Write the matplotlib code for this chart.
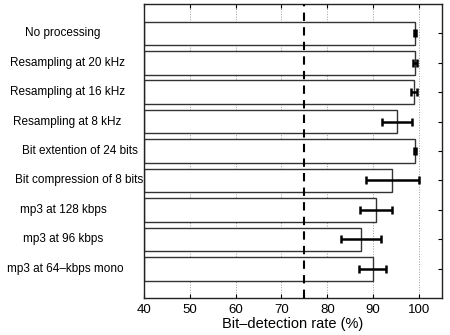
import numpy as np
import matplotlib
matplotlib.use("Agg")
import matplotlib.pyplot as plt
from matplotlib.transforms import blended_transform_factory

plt.rcParams['font.family'] = ['Liberation Sans', 'DejaVu Sans']

# data
labels = ['No processing', 'Resampling at 20 kHz', 'Resampling at 16 kHz',
          'Resampling at 8 kHz', 'Bit extention of 24 bits',
          'Bit compression of 8 bits', 'mp3 at 128 kbps', 'mp3 at 96 kbps',
          'mp3 at 64\u2013kbps mono']
rates = [99.2, 99.1, 98.9, 95.2, 99.2, 94.2, 90.6, 87.4, 89.9]
errs = [0.2, 0.5, 0.75, 3.3, 0.2, 5.8, 3.5, 4.4, 3.0]
label_x = [0.14, 0.15, 0.15, 0.15, 0.178, 0.175, 0.14, 0.14, 0.146]
threshold = 75
xticks = [40, 50, 60, 70, 80, 90, 100]

fig = plt.figure(figsize=(4.5, 3.35), dpi=100)
ax = fig.add_axes([0.32, 0.11, 0.662, 0.878])

pos = np.arange(1, len(labels) + 1)
ax.set_axisbelow(True)
ax.xaxis.grid(True, linestyle=':', color='#999999', linewidth=0.7)
ax.barh(pos, np.array(rates) - 40, left=40, height=0.8, color='white',
        edgecolor='#333333', linewidth=1.0, zorder=2)
ax.errorbar(rates, pos, xerr=errs, fmt='none', ecolor='black',
            elinewidth=1.8, capsize=3, capthick=1.8, zorder=3)
ax.axvline(threshold, color='black', linestyle=(0, (4, 3)), linewidth=1.5, zorder=4)

ax.set_xlim(40, 105)
ax.set_ylim(10, 0)
ax.set_xticks(xticks)
ax.set_yticks(pos)
ax.set_yticklabels([])
ax.tick_params(axis='x', top=True, direction='in', labelsize=9.5, length=3, pad=4)
ax.tick_params(axis='y', left=False, right=True, direction='in', length=3)
for s in ax.spines.values():
    s.set_linewidth(1.0)
    s.set_color('#222222')
ax.set_xlabel('Bit\u2013detection rate (%)', fontsize=10.5, labelpad=1)

trans = blended_transform_factory(fig.transFigure, ax.transData)
for lx, y, lab in zip(label_x, pos, labels):
    ax.text(lx, y, lab, transform=trans, ha='center', va='center', fontsize=8.5)

fig.savefig('out.png', dpi=100)
